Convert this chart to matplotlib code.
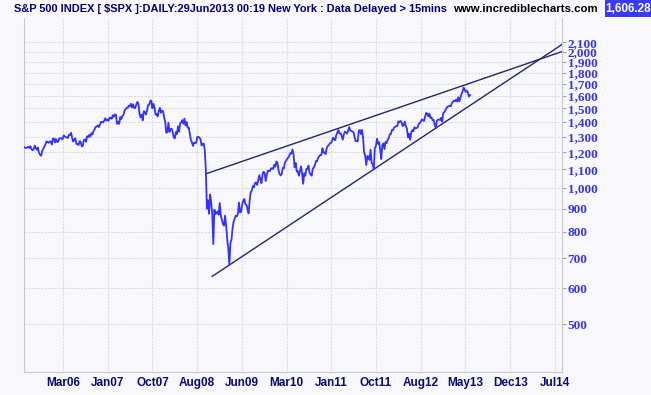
import numpy as np
import matplotlib
matplotlib.use("Agg")
import matplotlib.pyplot as plt
from matplotlib.ticker import FixedLocator, NullLocator
from matplotlib.patches import Rectangle

# weekly closes of the S&P 500 (Jul 2005 .. 28 Jun 2013)
y2005 = [1232, 1228, 1227, 1229, 1234, 1226, 1237, 1219, 1212, 1218, 1241, 1228, 1215, 1229,
         1196, 1186, 1179, 1207, 1220, 1234, 1248, 1268, 1265, 1259, 1267, 1268, 1248]
y2006 = [1285, 1287, 1261, 1283, 1264, 1266, 1287, 1289, 1287, 1281, 1307, 1302, 1295,
         1295, 1289, 1311, 1310, 1325, 1291, 1267, 1280, 1288, 1252, 1251, 1245, 1270,
         1265, 1236, 1240, 1278, 1280, 1266, 1302, 1295, 1311, 1299, 1322, 1314, 1336,
         1349, 1366, 1368, 1377, 1364, 1380, 1401, 1400, 1396, 1409, 1427, 1410, 1418]
y2007 = [1409, 1431, 1430, 1422, 1448, 1438, 1456, 1451, 1387, 1402, 1386, 1436, 1421,
         1443, 1452, 1484, 1494, 1505, 1505, 1522, 1515, 1536, 1507, 1532, 1503, 1503,
         1530, 1552, 1534, 1459, 1433, 1453, 1411, 1479, 1473, 1454, 1484, 1525, 1527,
         1557, 1561, 1501, 1535, 1509, 1453, 1458, 1440, 1481, 1504, 1467, 1484, 1478]
y2008 = [1433, 1401, 1325, 1330, 1395, 1331, 1349, 1353, 1331, 1294, 1288, 1330, 1316,
         1370, 1332, 1390, 1398, 1413, 1388, 1425, 1375, 1400, 1361, 1360, 1318, 1278,
         1262, 1239, 1260, 1257, 1260, 1297, 1298, 1293, 1283, 1242, 1252, 1255, 1213,
         1100, 900, 940, 877, 968, 930, 873, 752, 896, 876, 880, 888, 873]
y2009 = [927, 870, 850, 832, 826, 869, 827, 770, 735, 676, 756, 769, 816,
         843, 857, 869, 866, 878, 929, 883, 887, 919, 940, 946, 921, 918,
         896, 879, 940, 979, 987, 1010, 1004, 1026, 1029, 1016, 1042, 1068, 1044,
         1025, 1071, 1087, 1080, 1036, 1069, 1093, 1091, 1091, 1106, 1106, 1102, 1126]
y2010 = [1115, 1145, 1136, 1092, 1074, 1066, 1075, 1109, 1105, 1139, 1150, 1160, 1167,
         1179, 1194, 1192, 1217, 1187, 1111, 1136, 1088, 1089, 1065, 1092, 1117, 1076,
         1022, 1078, 1065, 1102, 1102, 1121, 1079, 1071, 1065, 1105, 1110, 1125, 1148,
         1147, 1166, 1176, 1183, 1183, 1225, 1199, 1199, 1189, 1224, 1240, 1244, 1257, 1258]
y2011 = [1271, 1293, 1283, 1276, 1311, 1329, 1343, 1320, 1321, 1304, 1279, 1313,
         1333, 1328, 1320, 1337, 1364, 1340, 1338, 1333, 1331, 1300, 1271, 1271, 1268,
         1339, 1344, 1316, 1345, 1292, 1199, 1179, 1124, 1177, 1174, 1154, 1216, 1136, 1131,
         1099, 1224, 1238, 1285, 1253, 1263, 1216, 1159, 1244, 1255, 1219, 1265, 1258]
y2012 = [1278, 1289, 1315, 1316, 1345, 1343, 1361, 1366, 1370, 1371, 1404, 1397, 1408,
         1398, 1370, 1378, 1403, 1369, 1353, 1295, 1318, 1278, 1325, 1343, 1335, 1362,
         1355, 1357, 1362, 1386, 1391, 1405, 1418, 1411, 1407, 1438, 1466, 1460, 1441,
         1461, 1429, 1433, 1412, 1414, 1380, 1359, 1409, 1416, 1418, 1413, 1430, 1402]
y2013 = [1466, 1472, 1486, 1503, 1513, 1518, 1520, 1516, 1541, 1551, 1561, 1556, 1569,
         1553, 1588, 1555, 1582, 1614, 1633, 1669, 1650, 1631, 1643, 1626, 1593, 1606]

prices = y2005 + y2006 + y2007 + y2008 + y2009 + y2010 + y2011 + y2012 + y2013

# trend lines: two anchor points each (week index, price)
upper_x = [170, 412]
upper_y = [1075, 1690]
lower_x = [176, 426]
lower_y = [638, 1573]

x_labels = ["Mar06", "Jan07", "Oct07", "Aug08", "Jun09", "Mar10",
            "Jan11", "Oct11", "Aug12", "May13", "Dec13", "Jul14"]
y_ticks = [500, 600, 700, 800, 900, 1000, 1100, 1200, 1300, 1400,
           1500, 1600, 1700, 1800, 1900, 2000, 2100]
last_price = "1,606.28"
title = "S&P 500 INDEX [ $SPX ]:DAILY:29Jun2013 00:19 New York : Data Delayed > 15mins"

bg = "#f8f8fc"
sans = ["Liberation Sans", "DejaVu Sans"]

fig = plt.figure(figsize=(6.51, 3.95), dpi=100, facecolor=bg)
ax = fig.add_axes([24/651, 1-372/395, (562-24)/651, (372-18)/395], facecolor=bg)

x = np.arange(len(prices))
ax.plot(x, prices, color="#3333ff", lw=1.3, zorder=3)

x_end = 503
for xs, ys in [(upper_x, upper_y), (lower_x, lower_y)]:
    slope = (np.log10(ys[1]) - np.log10(ys[0])) / (xs[1] - xs[0])
    y_end = 10 ** (np.log10(ys[0]) + slope * (x_end - xs[0]))
    ax.plot([xs[0], x_end], [ys[0], y_end], color="#24246e", lw=1.0, zorder=2)

ax.set_yscale("log")
ax.set_ylim(392, 2377)
ax.set_xlim(0, x_end)

ax.yaxis.set_major_locator(FixedLocator(y_ticks))
ax.yaxis.set_minor_locator(NullLocator())
ax.set_yticklabels([f"{v:,}" for v in y_ticks])
ax.yaxis.tick_right()

tick_pos = [36.5 + k * 41.8 for k in range(len(x_labels))]
ax.set_xticks(tick_pos)
ax.set_xticklabels(x_labels)
ax.xaxis.set_minor_locator(NullLocator())

for lab in ax.get_yticklabels():
    lab.set_fontfamily(["Liberation Serif", "DejaVu Serif"])
    lab.set_fontweight("bold")
    lab.set_fontsize(9.5)
    lab.set_color("#3535ee")
for lab in ax.get_xticklabels():
    lab.set_fontfamily(sans)
    lab.set_fontweight("bold")
    lab.set_fontsize(8.5)
    lab.set_color("#0a0a70")

ax.tick_params(axis="y", right=True, length=3, width=0.8, color="#a0a0a8", pad=1)
ax.tick_params(axis="x", length=0, pad=3.5)

ax.grid(True, color="#dcdce6", lw=0.8, linestyle=(0, (2, 1)))
ax.set_axisbelow(True)

for side in ["left", "bottom", "right"]:
    ax.spines[side].set_color("#c8c8d2")
    ax.spines[side].set_linewidth(0.8)
ax.spines["top"].set_visible(False)

fig.text(14/651, 1-9/395, title, fontsize=7.9, fontweight="bold", family=sans,
         color="#000080", va="center", ha="left")
fig.text(453/651, 1-9/395, "www.incrediblecharts.com", fontsize=8.2, fontweight="bold",
         family=sans, color="black", va="center", ha="left")
fig.patches.append(Rectangle((605/651, 1-17/395), 46/651, 17/395,
                             transform=fig.transFigure, facecolor="#3a3aff",
                             edgecolor="none"))
fig.text(628/651, 1-9/395, last_price, fontsize=8.5, fontweight="bold", family=sans,
         color="white", va="center", ha="center")

fig.savefig("out.png", dpi=100, facecolor=bg)
